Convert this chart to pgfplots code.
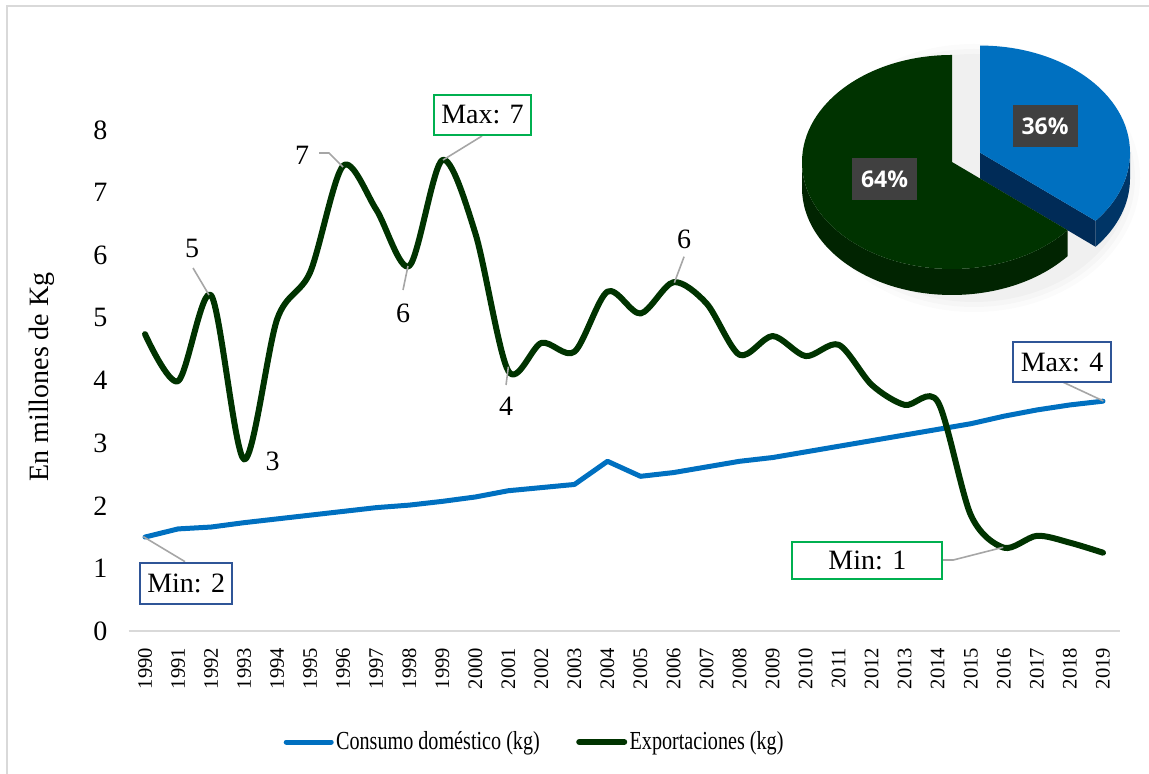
\documentclass[border=0pt]{standalone}
\usepackage{fontspec}
\setmainfont{Liberation Serif}
\newfontfamily\piefont{Open Sans}
\usepackage{graphicx}
\usepackage{pgfplots}
\pgfplotsset{compat=1.18}
\definecolor{cblue}{HTML}{0070C0}
\definecolor{cgreen}{HTML}{003300}
\definecolor{framegray}{HTML}{D9D9D9}
\definecolor{leadgray}{HTML}{A6A6A6}
\definecolor{boxgreen}{HTML}{00B050}
\definecolor{boxblue}{HTML}{2F5597}
\definecolor{bluecut}{HTML}{002B57}
\definecolor{bluerim}{HTML}{003566}
\definecolor{greenside}{HTML}{012401}
\definecolor{labbox}{HTML}{404040}

\pgfplotstableread{
year cons
1990 1.50
1991 1.63
1992 1.66
1993 1.73
1994 1.79
1995 1.85
1996 1.91
1997 1.97
1998 2.01
1999 2.07
2000 2.14
2001 2.24
2002 2.29
2003 2.34
2004 2.71
2005 2.47
2006 2.53
2007 2.62
2008 2.71
2009 2.77
2010 2.86
2011 2.95
2012 3.04
2013 3.13
2014 3.22
2015 3.31
2016 3.43
2017 3.53
2018 3.61
2019 3.67
}\consumo

\pgfplotstableread{
year exp
1990 4.74
1991 3.99
1992 5.36
1993 2.74
1994 4.98
1995 5.73
1996 7.43
1997 6.73
1998 5.83
1999 7.52
2000 6.35
2001 4.15
2002 4.60
2003 4.46
2004 5.42
2005 5.07
2006 5.57
2007 5.23
2008 4.41
2009 4.71
2010 4.39
2011 4.57
2012 3.93
2013 3.61
2014 3.66
2015 1.85
2016 1.33
2017 1.52
2018 1.41
2019 1.25
}\export

\begin{document}
\begin{tikzpicture}[
  leader/.style={draw=leadgray, line width=0.8pt},
  ann/.style={font=\fontsize{14}{16}\selectfont, inner sep=0pt},
  gbox/.style={draw=boxgreen, fill=white, line width=1pt, font=\fontsize{14}{16}\selectfont, inner sep=0pt, minimum height=20pt},
  bbox/.style={draw=boxblue, fill=white, line width=1pt, font=\fontsize{14}{16}\selectfont, inner sep=0pt, minimum height=20pt},
]
\useasboundingbox (0,0) rectangle (574.5pt,387pt);
\draw[color=framegray, line width=1pt] (3.5pt,0pt) -- (3.5pt,384pt) -- (574.5pt,384pt);

\begin{axis}[
  at={(64.25pt,71.5pt)}, anchor=south west,
  scale only axis, width=495.5pt, height=250.5pt,
  xmin=1989.5, xmax=2019.5, ymin=0, ymax=8,
  axis line style={draw=none},
  major tick length=0pt,
  xtick={1990,...,2019}, ytick={0,...,8},
  /pgf/number format/1000 sep={},
  /pgf/number format/assume math mode=true,
  xticklabel style={rotate=90, anchor=east, font=\fontsize{10.3}{12}\selectfont},
  xticklabel shift=5pt,
  yticklabel style={font=\fontsize{14}{16}\selectfont},
  yticklabel shift=7pt,
  clip=false,
  legend columns=2,
  legend style={at={(0.41,-0.2216)}, anchor=center, draw=none, fill=none,
    font=\fontsize{13}{15}\selectfont,
    nodes={inner sep=1.2pt},
    /tikz/every even column/.append style={column sep=17pt}},
  legend image code/.code={\draw[#1, line cap=round] (0pt,0pt) -- (22.5pt,0pt);},
]
\draw[framegray, line width=1pt] (rel axis cs:0,0) -- (rel axis cs:1,0);

\addplot[cblue, line width=2.5pt, line join=round, line cap=round] table[x=year, y=cons] {\consumo};
\addlegendentry{\scalebox{0.775}[1]{Consumo doméstico (kg)}}
\addplot[cgreen, line width=3pt, smooth, tension=0.5, line join=round, line cap=round] table[x=year, y=exp] {\export};
\addlegendentry{\scalebox{0.775}[1]{Exportaciones (kg)}}

% data labels
\draw[leader] (axis cs:1991.453,5.796) -- (axis cs:1991.937,5.365);
\node[ann] at (axis cs:1991.423,6.116) {5};
\draw[leader] (axis cs:1995.267,7.633) -- (axis cs:1995.570,7.633) -- (axis cs:1995.994,7.409);
\node[ann] at (axis cs:1994.753,7.601) {7};
\draw[leader] (axis cs:2000.20,7.904) -- (axis cs:1999.02,7.521);
\node[gbox, minimum width=48.5pt] at (axis cs:2000.217,8.240) {Max: 7};
\draw[leader] (axis cs:1997.81,5.445) -- (axis cs:1997.96,5.828);
\node[ann] at (axis cs:1997.81,5.078) {6};
\node[ann] at (axis cs:1993.866,2.703) {3};
\draw[leader] (axis cs:2000.929,3.928) -- (axis cs:2000.999,4.22);
\node[ann] at (axis cs:2000.929,3.582) {4};
\draw[leader] (axis cs:2006.318,5.977) -- (axis cs:2006.024,5.562);
\node[ann] at (axis cs:2006.318,6.255) {6};
\draw[leader] (axis cs:2017.80,3.971) -- (axis cs:2019.01,3.673);
\node[bbox, minimum width=48.7pt] at (axis cs:2017.76,4.291) {Max: 4};
\draw[leader] (axis cs:2014.137,1.134) -- (axis cs:2014.47,1.134) -- (axis cs:2015.98,1.337);
\node[gbox, minimum width=75pt, minimum height=18.8pt] at (axis cs:2011.867,1.126) {Min: 1};
\draw[leader] (axis cs:1991.211,1.107) -- (axis cs:1989.95,1.506);
\node[bbox, minimum width=46pt, minimum height=20.5pt] at (axis cs:1991.247,0.754) {Min: 2};
\end{axis}

% y axis title
\node[rotate=90, font=\fontsize{14}{16}\selectfont] at (21pt,198.5pt) {En millones de Kg};

% 3D pie (36% / 64%)
\begin{scope}[shift={(476pt,306pt)}, x=0.5pt, y=0.5pt]
  \foreach \r/\o in {16/0.015,11/0.02,6/0.025}{
    \fill[black, opacity=\o] (22,-16) ellipse ({150+\r} and {118+\r});
  }
  \begin{scope}[shift={(28,9.4)}]
    \fill[bluerim] (-39.6:150 and 107) arc[start angle=-39.6, end angle=0, x radius=150, y radius=107]
       -- ++(0,-26) arc[start angle=0, end angle=-39.6, x radius=150, y radius=107] -- cycle;
    \fill[bluecut] (0,0) -- (-39.6:150 and 107) -- ++(0,-26) -- (0,-26) -- cycle;
    \fill[cblue] (0,0) -- (90:150 and 107) arc[start angle=90, end angle=-39.6, x radius=150, y radius=107] -- cycle;
  \end{scope}
  \fill[greenside] (180:150 and 107) arc[start angle=180, end angle=320.4, x radius=150, y radius=107]
     -- ++(0,-26) arc[start angle=320.4, end angle=180, x radius=150, y radius=107] -- cycle;
  \fill[cgreen] (0,0) -- (90:150 and 107) arc[start angle=90, end angle=320.4, x radius=150, y radius=107] -- cycle;
  \node[fill=labbox, text=white, font=\piefont\bfseries\fontsize{11.5}{13}\selectfont,
        minimum width=32.5pt, minimum height=21pt, inner sep=0pt] at (93,36) {36\%};
  \node[fill=labbox, text=white, font=\piefont\bfseries\fontsize{11.5}{13}\selectfont,
        minimum width=32.5pt, minimum height=21pt, inner sep=0pt] at (-67.5,-17) {64\%};
\end{scope}
\end{tikzpicture}
\end{document}
